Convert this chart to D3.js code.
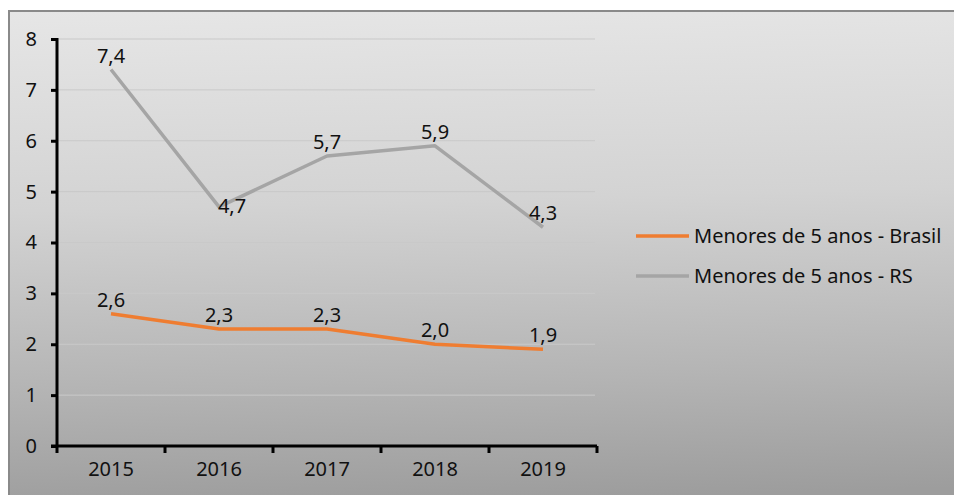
<!DOCTYPE html>
<html>
<head>
<meta charset="utf-8">
<script src="https://cdn.jsdelivr.net/npm/d3@7"></script>
<style>
  body { margin: 0; background: #fff; }
  svg { display: block; font-family: "Noto Sans", sans-serif; }
</style>
</head>
<body>
<svg id="chart" width="954" height="495"></svg>
<script>
// data
var years = ["2015", "2016", "2017", "2018", "2019"];
var brasil = [2.6, 2.3, 2.3, 2.0, 1.9];
var rs = [7.4, 4.7, 5.7, 5.9, 4.3];
var seriesNames = ["Menores de 5 anos - Brasil", "Menores de 5 anos - RS"];
var seriesColours = ["#ef7d31", "#a5a5a5"];
var yTicks = [0, 1, 2, 3, 4, 5, 6, 7, 8];

var svg = d3.select("#chart");
var fontSize = "20px";

// background gradient
var grad = svg.append("defs").append("linearGradient")
    .attr("id", "bg")
    .attr("x1", 0).attr("y1", 0)
    .attr("x2", 0.05).attr("y2", 1);
grad.append("stop").attr("offset", 0).attr("stop-color", "#e6e6e6");
grad.append("stop").attr("offset", 0.4).attr("stop-color", "#d3d3d3");
grad.append("stop").attr("offset", 0.76).attr("stop-color", "#b4b4b4");
grad.append("stop").attr("offset", 1).attr("stop-color", "#9d9d9d");

svg.append("rect")
    .attr("x", 9).attr("y", 11)
    .attr("width", 960).attr("height", 500)
    .attr("fill", "url(#bg)")
    .attr("stroke", "#8a8a8a")
    .attr("stroke-width", 2);

var plotLeft = 57, plotRight = 597, plotTop = 39, plotBottom = 446;

var x = d3.scaleBand().domain(years).range([plotLeft, plotRight]);
var y = d3.scaleLinear().domain([0, 8]).range([plotBottom, plotTop]);

// gridlines
svg.append("g")
    .selectAll("line")
    .data(yTicks.slice(1))
    .enter().append("line")
    .attr("x1", plotLeft).attr("x2", plotRight - 2)
    .attr("y1", d => y(d)).attr("y2", d => y(d))
    .attr("stroke", "#c9c9c9")
    .attr("stroke-width", 1);

// y axis
var yAxis = svg.append("g")
    .attr("transform", "translate(" + plotLeft + ",0)")
    .call(d3.axisLeft(y).tickValues(yTicks).tickSize(6).tickPadding(14));
yAxis.attr("font-family", null).attr("font-size", null);
yAxis.select(".domain").attr("stroke", "#000").attr("stroke-width", 3)
    .attr("d", "M0," + (plotTop - 1) + "V" + (plotBottom + 1));
yAxis.selectAll(".tick line").attr("stroke", "#000").attr("stroke-width", 3);
yAxis.selectAll("text").attr("fill", "#111").style("font-size", fontSize);

// x axis with ticks at band edges
var xAxis = svg.append("g")
    .attr("transform", "translate(0," + plotBottom + ")")
    .call(d3.axisBottom(x).tickSize(0).tickPadding(16));
xAxis.attr("font-family", null).attr("font-size", null);
xAxis.select(".domain").attr("stroke", "#000").attr("stroke-width", 3)
    .attr("d", "M" + (plotLeft - 6) + ",0H" + plotRight);
xAxis.selectAll("text").attr("fill", "#111").style("font-size", fontSize);
xAxis.selectAll(".edge")
    .data(d3.range(years.length + 1))
    .enter().append("line")
    .attr("x1", i => plotLeft + i * x.step()).attr("x2", i => plotLeft + i * x.step())
    .attr("y1", 0).attr("y2", 7)
    .attr("stroke", "#000").attr("stroke-width", 3);

var line = d3.line()
    .x((d, i) => x(years[i]) + x.bandwidth() / 2)
    .y(d => y(d));

var series = [brasil, rs];
series.forEach(function (vals, s) {
    svg.append("path")
        .datum(vals)
        .attr("d", line)
        .attr("fill", "none")
        .attr("stroke", seriesColours[s])
        .attr("stroke-width", 3.5)
        .attr("stroke-linejoin", "round");
});

// data labels (one on RS 2016 sits to the right of its point)
series.forEach(function (vals, s) {
    svg.append("g")
        .selectAll("text")
        .data(vals)
        .enter().append("text")
        .attr("x", (d, i) => x(years[i]) + x.bandwidth() / 2 + (s === 1 && i === 1 ? 13 : 0))
        .attr("y", (d, i) => y(d) - (s === 1 && i === 1 ? -6 : 7))
        .attr("text-anchor", "middle")
        .attr("fill", "#111")
        .style("font-size", fontSize)
        .text(d => d3.format(".1f")(d).replace(".", ","));
});

// legend
var legend = svg.append("g");
legend.selectAll("line")
    .data(seriesNames)
    .enter().append("line")
    .attr("x1", 636).attr("x2", 689)
    .attr("y1", (d, i) => 236 + i * 40).attr("y2", (d, i) => 236 + i * 40)
    .attr("stroke", (d, i) => seriesColours[i])
    .attr("stroke-width", 3.5);
legend.selectAll("text")
    .data(seriesNames)
    .enter().append("text")
    .attr("x", 694)
    .attr("y", (d, i) => 236 + i * 40)
    .attr("dy", "0.35em")
    .attr("fill", "#111")
    .style("font-size", fontSize)
    .text(d => d);
</script>
</body>
</html>
